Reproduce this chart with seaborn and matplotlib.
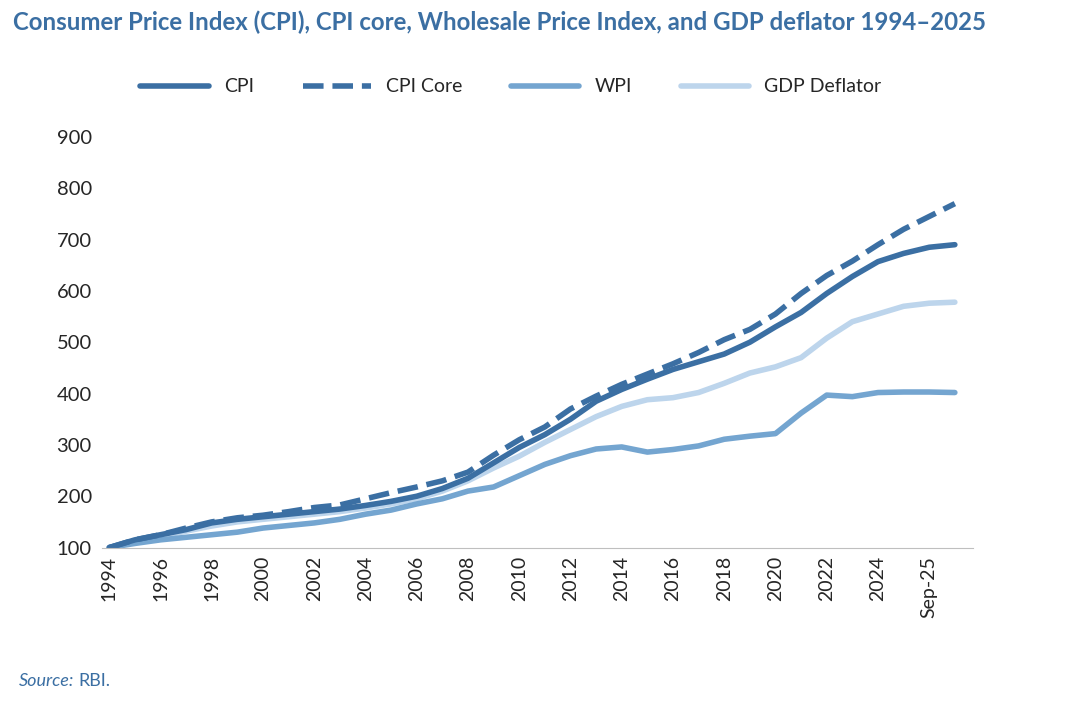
import pandas as pd
import seaborn as sns
import matplotlib.pyplot as plt

# data
periods = [str(y) for y in range(1994, 2026)] + ["Sep-25", "Dec-25"]
cpi = [100, 115, 125, 135, 148, 155, 160, 165, 170, 175, 182, 190, 200, 215, 235, 265, 295,
       320, 350, 385, 408, 428, 447, 462, 477, 500, 530, 558, 595, 628, 657, 673, 685, 690]
cpi_core = [100, 115, 125, 138, 150, 158, 163, 170, 178, 183, 195, 207, 218, 230, 247, 280, 310,
            335, 370, 395, 418, 438, 458, 480, 505, 525, 555, 595, 630, 658, 690, 720, 745, 770]
wpi = [100, 108, 115, 120, 125, 130, 138, 143, 148, 155, 165, 173, 185, 195, 210, 218, 240,
       262, 279, 292, 296, 286, 291, 298, 311, 317, 322, 362, 397, 394, 402, 403, 403, 402]
gdp_deflator = [100, 112, 122, 132, 142, 150, 155, 160, 165, 170, 177, 185, 195, 210, 230, 255, 278,
                305, 330, 355, 375, 388, 392, 402, 420, 440, 452, 470, 508, 540, 555, 570, 576, 578]
tick_labels = [str(y) for y in range(1994, 2025, 2)] + ["Sep-25"]

series = {"CPI": cpi, "CPI Core": cpi_core, "WPI": wpi, "GDP Deflator": gdp_deflator}
colors = {"CPI": "#3b6fa3", "CPI Core": "#3b6fa3", "WPI": "#74a5d0", "GDP Deflator": "#bdd5ec"}

df = pd.DataFrame({"x": range(len(periods)), **series}).melt(id_vars="x", var_name="series", value_name="value")

sns.set_style("white")
plt.rcParams['font.family'] = ['Lato', 'DejaVu Sans']

fig = plt.figure(figsize=(10.69, 7.02), dpi=100)
ax = fig.add_axes([0.095, 0.22, 0.815, 0.585])

for name in ["GDP Deflator", "WPI", "CPI", "CPI Core"]:
    sub = df[df["series"] == name]
    sns.lineplot(data=sub, x="x", y="value", ax=ax, color=colors[name], linewidth=4,
                 linestyle="--" if name == "CPI Core" else "-", label=name)

ax.set_ylim(100, 900)
ax.set_yticks(range(100, 901, 100))
ax.set_xlim(-0.3, len(periods) - 0.3)
ax.set_xticks(range(0, 33, 2))
ax.set_xticklabels(tick_labels, rotation=90, fontsize=14)
ax.tick_params(axis="y", labelsize=14.5)
ax.tick_params(axis="x", length=0, pad=6)
ax.set_xlabel("")
ax.set_ylabel("")
for s in ["top", "right", "left"]:
    ax.spines[s].set_visible(False)
ax.spines["bottom"].set_color("#bfbfbf")

handles, labels = ax.get_legend_handles_labels()
order = ["CPI", "CPI Core", "WPI", "GDP Deflator"]
h = [handles[labels.index(n)] for n in order]
ax.legend(h, order, loc="upper center", bbox_to_anchor=(0.47, 1.185), ncol=4, frameon=False,
          fontsize=14, handlelength=3.5, columnspacing=2.5)

fig.text(0.012, 0.968, "Consumer Price Index (CPI), CPI core, Wholesale Price Index, and GDP deflator 1994\u20132025",
         fontsize=17.3, fontweight="bold", color="#3b6fa3", va="center")
fig.text(0.018, 0.03, "Source:", fontsize=13, style="italic", color="#3b6fa3", va="center")
fig.text(0.073, 0.03, "RBI.", fontsize=13, color="#3b6fa3", va="center")

fig.savefig("out.png", dpi=100)
